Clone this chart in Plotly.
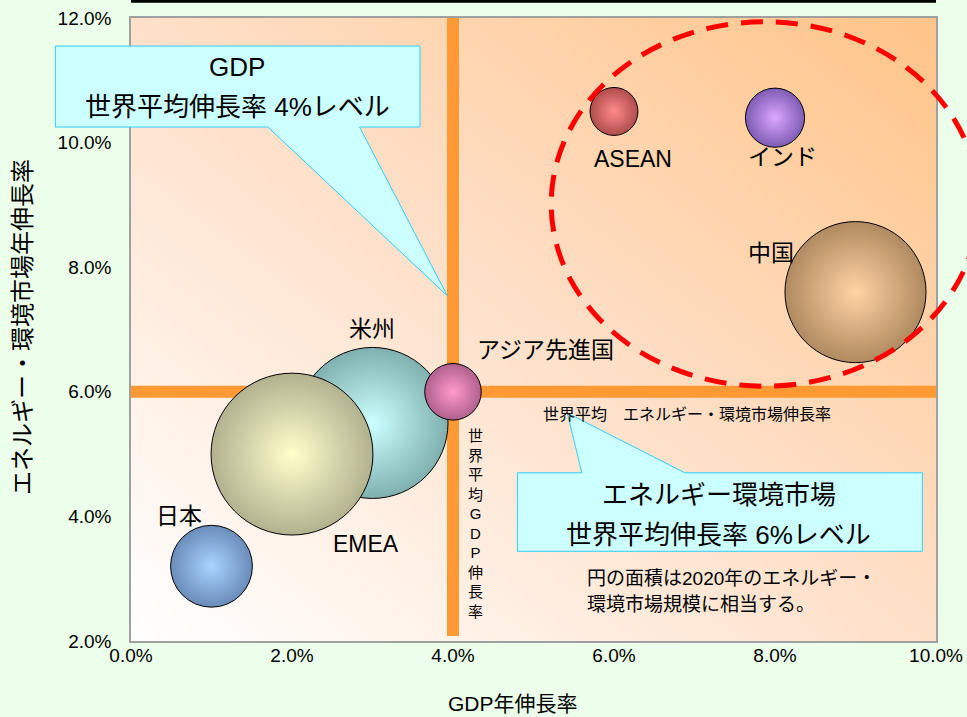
import base64
import plotly.graph_objects as go

# ---------------- data ----------------
regions = ["日本", "米州", "EMEA", "アジア先進国", "ASEAN", "インド", "中国"]
gdp_growth = [1.0, 3.0, 2.0, 4.0, 6.0, 8.0, 9.0]          # GDP年伸長率 (%)
market_growth = [3.2, 5.5, 5.0, 6.0, 10.5, 10.4, 7.6]     # エネルギー・環境市場年伸長率 (%)
market_size_2020 = [67, 228, 262, 32, 23, 35, 199]       # 2020年 市場規模 (相対値)

WORLD_GDP_AVG = 4.0
WORLD_MARKET_AVG = 6.0

x_ticks = [0, 2, 4, 6, 8, 10]
x_tick_labels = ["0.0%", "2.0%", "4.0%", "6.0%", "8.0%", "10.0%"]
y_ticks = [2, 4, 6, 8, 10, 12]
y_tick_labels = ["2.0%", "4.0%", "6.0%", "8.0%", "10.0%", "12.0%"]

# ---------------- styles ----------------
edge_colors = ["#6a8cba", "#80b0b0", "#b2b290", "#b0608e", "#b04c4c", "#7e5cb4", "#b08a60"]
center_colors = ["#aad4ff", "#ccffff", "#ffffcc", "#ff9acc", "#ff8a8a", "#dca6ff", "#ffd4a4"]
label_shift = [(-33, 50), (-1, 94), (74, -90), (92, 42), (19, -48), (7, -39), (-85, 39)]
label_size = [23, 23, 23, 23, 23, 23, 23]

X_MIN, X_MAX = 0, 10
Y_MIN, Y_MAX = 2, 12
FONT = "Liberation Sans, Noto Sans CJK JP, sans-serif"
ORANGE = "#ff9933"


def px(v):
    return (v - X_MIN) / (X_MAX - X_MIN)


def py(v):
    return (v - Y_MIN) / (Y_MAX - Y_MIN)


fig = go.Figure()

fig.add_trace(go.Scatter(
    x=gdp_growth, y=market_growth, mode="markers", text=regions,
    marker=dict(
        size=market_size_2020, sizemode="area", sizeref=0.02,
        color=edge_colors, opacity=1,
        gradient=dict(type="radial", color=center_colors),
        line=dict(color="#000000", width=1),
    ),
    hovertemplate="%{text}<br>GDP %{x:.1f}%<br>市場 %{y:.1f}%<extra></extra>",
    showlegend=False, cliponaxis=False,
))

# gradient background of plot area
svg = ("<svg xmlns='http://www.w3.org/2000/svg' width='100' height='100' viewBox='0 0 100 100' "
       "preserveAspectRatio='none'><defs><linearGradient id='g' x1='0' y1='1' x2='1' y2='0'>"
       "<stop offset='0' stop-color='#ffffff'/><stop offset='0.5' stop-color='#fee0c9'/>"
       "<stop offset='1' stop-color='#ffc488'/></linearGradient></defs>"
       "<rect width='100' height='100' fill='url(#g)'/></svg>")
src = "data:image/svg+xml;base64," + base64.b64encode(svg.encode()).decode()

shapes = []
# world average lines
shapes.append(dict(type="line", xref="paper", yref="paper", x0=0, x1=1,
                   y0=py(WORLD_MARKET_AVG), y1=py(WORLD_MARKET_AVG),
                   line=dict(color=ORANGE, width=12), layer="below"))
shapes.append(dict(type="line", xref="paper", yref="paper", x0=px(WORLD_GDP_AVG), x1=px(WORLD_GDP_AVG),
                   y0=py(2.08), y1=1, line=dict(color=ORANGE, width=12), layer="below"))
# red dashed ellipse
shapes.append(dict(type="circle", xref="paper", yref="paper",
                   x0=px(5.22), x1=px(10.53), y0=py(6.09), y1=py(11.94),
                   line=dict(color="#ff0000", width=5, dash="22px,13px"), layer="above"))


def callout_path(x0, x1, yb, yt, n0, n1, tx, ty, notch_top):
    if notch_top:
        pts = [(x0, yt), (n0, yt), (tx, ty), (n1, yt), (x1, yt), (x1, yb), (x0, yb)]
    else:
        pts = [(x0, yt), (x1, yt), (x1, yb), (n1, yb), (tx, ty), (n0, yb), (x0, yb)]
    return "M " + " L ".join(f"{px(a):.5f},{py(b):.5f}" for a, b in pts) + " Z"


shapes.append(dict(type="path", xref="paper", yref="paper",
                   path=callout_path(-0.94, 3.59, 10.25, 11.55, 1.70, 2.84, 3.93, 7.54, False),
                   fillcolor="#ccffff", line=dict(color="#33ccff", width=1), layer="above"))
shapes.append(dict(type="path", xref="paper", yref="paper",
                   path=callout_path(4.80, 9.83, 3.44, 4.70, 5.60, 6.88, 5.42, 5.66, True),
                   fillcolor="#ccffff", line=dict(color="#33ccff", width=1), layer="above"))
# thin black line at top
shapes.append(dict(type="line", xref="paper", yref="paper", x0=0, x1=1, y0=1.027, y1=1.027,
                   line=dict(color="#000000", width=3)))

annotations = []
for i, name in enumerate(regions):
    annotations.append(dict(
        x=px(gdp_growth[i]), y=py(market_growth[i]), xref="paper", yref="paper",
        xanchor="center", yanchor="middle",
        text=name, showarrow=False, xshift=label_shift[i][0], yshift=label_shift[i][1],
        font=dict(family=FONT, size=label_size[i], color="#000000")))


def note(text, x, y, size, xanchor="center", yanchor="middle", **kw):
    annotations.append(dict(x=px(x), y=py(y), xref="paper", yref="paper", text=text,
                            showarrow=False, xanchor=xanchor, yanchor=yanchor,
                            font=dict(family=FONT, size=size, color="#000000"), **kw))


note("GDP", 1.32, 11.21, 26)
note("世界平均伸長率 4%レベル", 1.32, 10.57, 26)
note("エネルギー環境市場", 7.30, 4.34, 26)
note("世界平均伸長率 6%レベル", 7.30, 3.70, 26)
note("世界平均　エネルギー・環境市場伸長率", 6.91, 5.63, 16)
note("円の面積は2020年のエネルギー・", 5.64, 3.01, 19, xanchor="left")
note("環境市場規模に相当する。", 5.64, 2.58, 19, xanchor="left")
note("<br>".join(list("世界平均GDP伸長率")), WORLD_GDP_AVG, 3.88, 15, xshift=22)
# axis titles
note("GDP年伸長率", 4.75, 0.995, 21)
note("エネルギー・環境市場年伸長率", -1.354, 7.04, 24, textangle=-90)

tick_font = dict(family=FONT, size=19, color="#000000")
fig.update_layout(
    width=967, height=717,
    margin=dict(l=131, r=31, t=18, b=76),
    paper_bgcolor="#ebffea",
    plot_bgcolor="#ffffff",
    font=dict(family=FONT, color="#000000"),
    shapes=shapes,
    annotations=annotations,
    images=[dict(source=src, xref="paper", yref="paper", x=0, y=1, sizex=1, sizey=1,
                 sizing="stretch", xanchor="left", yanchor="top", layer="below")],
)
fig.update_xaxes(range=[X_MIN, X_MAX], tickmode="array", tickvals=x_ticks, ticktext=x_tick_labels,
                 showgrid=False, zeroline=False, showline=True, mirror=True, automargin=False,
                 linecolor="#a0a0a0", linewidth=1.5, tickfont=tick_font, fixedrange=True,
                 ticklabelstandoff=-4)
fig.update_yaxes(range=[Y_MIN, Y_MAX], tickmode="array", tickvals=y_ticks, ticktext=y_tick_labels,
                 showgrid=False, zeroline=False, showline=True, mirror=True, automargin=False,
                 linecolor="#a0a0a0", linewidth=1.5, tickfont=tick_font,
                 ticks="outside", ticklen=14, tickcolor="rgba(0,0,0,0)", fixedrange=True)

fig.write_html("out.html")
